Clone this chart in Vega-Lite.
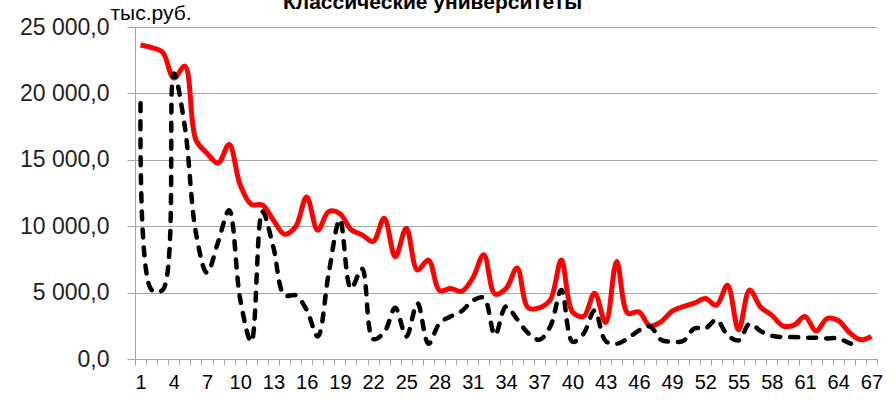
{
  "$schema": "https://vega.github.io/schema/vega-lite/v6.json",
  "width": 742,
  "height": 332,
  "autosize": {"type": "none"},
  "padding": {"left": 135, "top": 27, "right": 19, "bottom": 45},
  "background": "white",
  "title": {
    "text": "Классические университеты",
    "anchor": "start",
    "frame": "group",
    "dx": 148,
    "dy": 28,
    "font": "Liberation Sans",
    "fontSize": 21,
    "fontWeight": "bold",
    "color": "#000000",
    "baseline": "alphabetic",
    "offset": 0
  },
  "config": {"view": {"stroke": null}},
  "data": {
    "values": [
      {"n": 1, "red": 23650, "black": 19250},
      {"n": 2, "red": 23450, "black": 5200},
      {"n": 3, "red": 23100, "black": 5200},
      {"n": 4, "red": 21150, "black": 21500},
      {"n": 5, "red": 22050, "black": 17500},
      {"n": 6, "red": 16500, "black": 9500},
      {"n": 7, "red": 15500, "black": 6500},
      {"n": 8, "red": 14750, "black": 8800},
      {"n": 9, "red": 16150, "black": 11200},
      {"n": 10, "red": 13100, "black": 4500},
      {"n": 11, "red": 11650, "black": 1300},
      {"n": 12, "red": 11600, "black": 11100},
      {"n": 13, "red": 10450, "black": 8400},
      {"n": 14, "red": 9400, "black": 4800},
      {"n": 15, "red": 9950, "black": 4800},
      {"n": 16, "red": 12200, "black": 3700},
      {"n": 17, "red": 9700, "black": 1700},
      {"n": 18, "red": 11100, "black": 6500},
      {"n": 19, "red": 10950, "black": 10500},
      {"n": 20, "red": 9750, "black": 5300},
      {"n": 21, "red": 9350, "black": 6800},
      {"n": 22, "red": 8850, "black": 1500},
      {"n": 23, "red": 10600, "black": 2000},
      {"n": 24, "red": 7700, "black": 3850},
      {"n": 25, "red": 9850, "black": 1700},
      {"n": 26, "red": 6700, "black": 4200},
      {"n": 27, "red": 7450, "black": 1150},
      {"n": 28, "red": 5150, "black": 2700},
      {"n": 29, "red": 5300, "black": 3200},
      {"n": 30, "red": 5100, "black": 3600},
      {"n": 31, "red": 6100, "black": 4400},
      {"n": 32, "red": 7850, "black": 4600},
      {"n": 33, "red": 4900, "black": 1800},
      {"n": 34, "red": 5300, "black": 3950},
      {"n": 35, "red": 6850, "black": 3000},
      {"n": 36, "red": 3850, "black": 1950},
      {"n": 37, "red": 3850, "black": 1450},
      {"n": 38, "red": 4450, "black": 2450},
      {"n": 39, "red": 7450, "black": 5200},
      {"n": 40, "red": 3550, "black": 1300},
      {"n": 41, "red": 3200, "black": 1900},
      {"n": 42, "red": 4950, "black": 3650},
      {"n": 43, "red": 2750, "black": 1350},
      {"n": 44, "red": 7350, "black": 1150},
      {"n": 45, "red": 3450, "black": 1550},
      {"n": 46, "red": 3550, "black": 2150},
      {"n": 47, "red": 2500, "black": 2450},
      {"n": 48, "red": 2800, "black": 1450},
      {"n": 49, "red": 3600, "black": 1300},
      {"n": 50, "red": 3950, "black": 1350},
      {"n": 51, "red": 4200, "black": 2300},
      {"n": 52, "red": 4550, "black": 2300},
      {"n": 53, "red": 4050, "black": 2950},
      {"n": 54, "red": 5550, "black": 1800},
      {"n": 55, "red": 2200, "black": 1400},
      {"n": 56, "red": 5200, "black": 2650},
      {"n": 57, "red": 3900, "black": 2100},
      {"n": 58, "red": 3300, "black": 1750},
      {"n": 59, "red": 2500, "black": 1650},
      {"n": 60, "red": 2550, "black": 1650},
      {"n": 61, "red": 3200, "black": 1600},
      {"n": 62, "red": 2100, "black": 1600},
      {"n": 63, "red": 3050, "black": 1550},
      {"n": 64, "red": 2900, "black": 1550},
      {"n": 65, "red": 2000, "black": 1200},
      {"n": 66, "red": 1450, "black": 950},
      {"n": 67, "red": 1700, "black": null}
    ]
  },
  "encoding": {
    "x": {
      "field": "n",
      "type": "ordinal",
      "bandPosition": 0.5,
      "scale": {"type": "band", "paddingInner": 0, "paddingOuter": 0},
      "axis": {
        "title": null,
        "labelAngle": 0,
        "tickBand": "extent",
        "labelExpr": "(datum.value - 1) % 3 == 0 ? datum.label : ''",
        "labelOverlap": false,
        "labelFont": "Liberation Sans Narrow, Liberation Sans",
        "labelFontSize": 20,
        "labelColor": "#000000",
        "tickColor": "#a6a6a6",
        "tickSize": 6,
        "domainColor": "#a6a6a6",
        "labelPadding": 7,
        "grid": false
      }
    }
  },
  "layer": [
    {
      "mark": {"type": "line", "interpolate": "catmull-rom", "color": "#ff0000", "strokeWidth": 5},
      "encoding": {
        "y": {
          "field": "red",
          "type": "quantitative",
          "scale": {"domain": [0, 25000], "nice": false},
          "axis": {
            "title": "тыс.руб.",
            "titleAngle": 0,
            "titleAlign": "left",
            "titleBaseline": "alphabetic",
            "titleX": -25,
            "titleY": -8,
            "titleFont": "Liberation Sans",
            "titleFontSize": 21,
            "titleFontWeight": "normal",
            "titleColor": "#000000",
            "values": [0, 5000, 10000, 15000, 20000, 25000],
            "labelExpr": "replace(replace(format(datum.value, ',.1f'), ',', ' '), '.', ',')",
            "labelFont": "Liberation Sans",
            "labelFontSize": 23,
            "labelColor": "#222222",
            "tickSize": 8,
            "tickColor": "#a6a6a6",
            "labelPadding": 18,
            "domainColor": "#a6a6a6",
            "gridColor": "#a6a6a6",
            "gridWidth": 1.2
          }
        }
      }
    },
    {
      "mark": {"type": "line", "interpolate": "catmull-rom", "color": "#000000", "strokeWidth": 4.5, "strokeDash": [8, 10], "strokeCap": "round"},
      "encoding": {
        "y": {"field": "black", "type": "quantitative"}
      }
    }
  ]
}
